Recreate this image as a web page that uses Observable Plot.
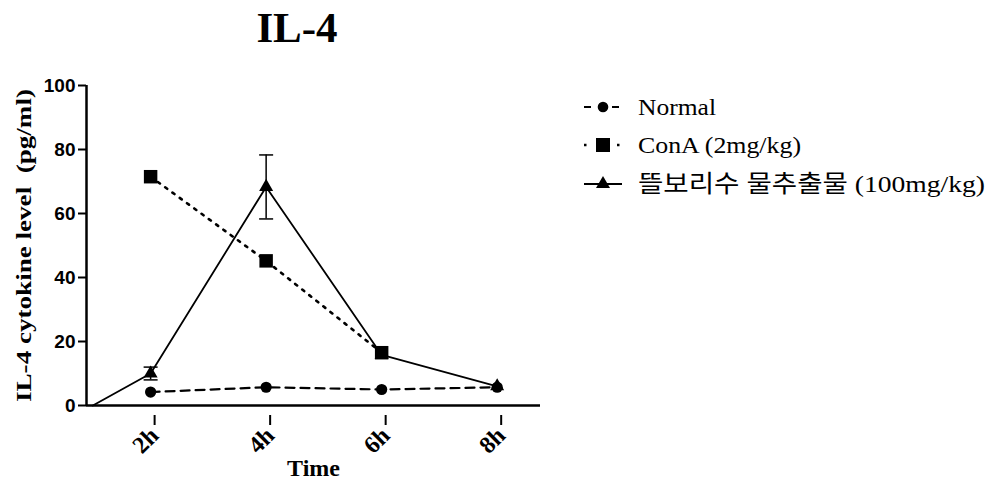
<!DOCTYPE html>
<html>
<head>
<meta charset="utf-8">
<script src="https://cdn.jsdelivr.net/npm/d3@7"></script>
<script src="https://cdn.jsdelivr.net/npm/@observablehq/plot@0.6"></script>
<style>
  html, body { margin: 0; padding: 0; background: #fff; }
  #wrap { position: relative; width: 989px; height: 490px; overflow: hidden; background: #fff; }
  #overlay { position: absolute; left: 0; top: 0; pointer-events: none; }
  #wrap g[aria-label="y-axis tick label"] text { font-size: 19px !important; font-weight: bold; font-family: 'Liberation Sans', Arial, sans-serif; }
</style>
</head>
<body>
<div id="wrap"></div>
<script>
// ---- data ----
const times = [2, 4, 6, 8];
const timeLabels = ["2h", "4h", "6h", "8h"];
const normalValues = [4.2, 5.7, 5.0, 5.7];
const conATimes = [2, 4, 6];
const conAValues = [71.5, 45.2, 16.5];
const extractTimes = [1, 2, 4, 6, 8];
const extractValues = [0, 10, 68.3, 15.8, 6.0];
const extractErrors = [0, 2, 10, 0, 0];
const seriesNames = ["Normal", "ConA (2mg/kg)", "뜰보리수 물추출물 (100mg/kg)"];
const yTicks = [0, 20, 40, 60, 80, 100];
const xDomain = [0.89, 8.75];
const titleText = "IL-4";
const yLabel = "IL-4 cytokine level  (pg/ml)";
const xLabel = "Time";

const normalRows = times.map((t, i) => ({t, v: normalValues[i]}));
const conARows = conATimes.map((t, i) => ({t, v: conAValues[i]}));
const extractRows = extractTimes.map((t, i) => ({t, v: extractValues[i], e: extractErrors[i]}));
const extractMarkers = extractRows.filter(d => times.includes(d.t));
const errRows = extractRows.filter(d => d.e > 0);

const capSymbol = {
  draw(ctx, size) {
    const w = Math.sqrt(size / Math.PI);
    ctx.moveTo(-w, 0);
    ctx.lineTo(w, 0);
  }
};

const serif = "'Liberation Serif', 'Times New Roman', serif";
const sans = "'Liberation Sans', Arial, sans-serif";

const chart = Plot.plot({
  width: 989,
  height: 490,
  marginLeft: 86,
  marginRight: 449,
  marginTop: 85,
  marginBottom: 85,
  style: {background: "white", color: "black", overflow: "visible"},
  x: {domain: xDomain},
  y: {domain: [0, 100]},
  marks: [
    Plot.axisY({ticks: yTicks, tickSize: 8, tickPadding: 3, strokeWidth: 2,
      fontSize: 19, fontWeight: "bold", fontFamily: sans, label: null}),
    Plot.axisX({ticks: times, tickFormat: d => timeLabels[times.indexOf(d)],
      tickSize: 10, tickPadding: 6, tickRotate: -45, strokeWidth: 2, dx: 4, dy: 10,
      fontSize: 24, fontWeight: "bold", fontFamily: serif, label: null}),
    Plot.text([yLabel], {frameAnchor: "left", rotate: -90, dx: -62, textAnchor: "middle",
      fontSize: 20, fontWeight: "bold", fontFamily: serif}),
    Plot.text([xLabel], {frameAnchor: "bottom", dy: 70,
      fontSize: 24, fontWeight: "bold", fontFamily: serif}),
    Plot.ruleX([xDomain[0]], {stroke: "black", strokeWidth: 2.5}),
    Plot.ruleY([0], {stroke: "black", strokeWidth: 2.5}),
    // lines
    Plot.line(normalRows, {x: "t", y: "v", stroke: "black", strokeWidth: 2.2, strokeDasharray: "9,6"}),
    Plot.line(conARows, {x: "t", y: "v", stroke: "black", strokeWidth: 2.6, strokeDasharray: "2.5,6.5"}),
    Plot.line(extractRows, {x: "t", y: "v", stroke: "black", strokeWidth: 1.8}),
    // error bars
    Plot.ruleX(errRows, {x: "t", y1: d => d.v - d.e, y2: d => d.v + d.e, stroke: "black", strokeWidth: 1.5}),
    Plot.dot(errRows, {x: "t", y: d => d.v + d.e, symbol: capSymbol, r: 7, stroke: "black", strokeWidth: 1.5, fill: "none"}),
    Plot.dot(errRows, {x: "t", y: d => d.v - d.e, symbol: capSymbol, r: 7, stroke: "black", strokeWidth: 1.5, fill: "none"}),
    // markers
    Plot.dot(conARows, {x: "t", y: "v", symbol: "square", r: 7.6, fill: "black"}),
    Plot.dot(extractMarkers, {x: "t", y: "v", symbol: "triangle", r: 5.2, fill: "black"}),
    Plot.dot(normalRows, {x: "t", y: "v", symbol: "circle", r: 5.6, fill: "black"})
  ]
});
document.getElementById("wrap").appendChild(chart);

// stretch the y-axis title to the reference's length
d3.select(chart).selectAll("text")
  .filter(function () { return this.textContent === yLabel; })
  .attr("textLength", 313).attr("lengthAdjust", "spacingAndGlyphs");

// ---- overlay: title + legend ----
const svg = d3.select("#wrap").append("svg")
  .attr("id", "overlay").attr("width", 989).attr("height", 490);

svg.append("text")
  .attr("x", 297).attr("y", 42)
  .attr("text-anchor", "middle")
  .attr("font-family", serif).attr("font-weight", "bold").attr("font-size", 43)
  .text(titleText);

const legendStyles = [
  {dash: "7,7", width: 2.2, symbol: d3.symbolCircle, size: Math.PI * 5.3 * 5.3, textWidth: 78},
  {dash: "2.5,14", width: 2.6, symbol: d3.symbolSquare, size: 14 * 14, textWidth: 163},
  {dash: null, width: 1.8, symbol: d3.symbolTriangle, size: Math.PI * 5.2 * 5.2, textWidth: 347}
];
const rowY = [107, 145, 184];
const lg = svg.append("g");
seriesNames.forEach((name, i) => {
  const st = legendStyles[i];
  const g = lg.append("g").attr("transform", `translate(0,${rowY[i]})`);
  const ln = g.append("line").attr("x1", 584).attr("x2", 622).attr("y1", 0).attr("y2", 0)
    .attr("stroke", "black").attr("stroke-width", st.width);
  if (st.dash) ln.attr("stroke-dasharray", st.dash);
  g.append("path").attr("d", d3.symbol(st.symbol, st.size)())
    .attr("transform", "translate(603,0)").attr("fill", "black");
  g.append("text").attr("x", 638).attr("y", 0).attr("dy", "0.33em")
    .attr("font-family", serif + ", 'Noto Sans CJK KR'").attr("font-size", 24)
    .attr("textLength", st.textWidth).attr("lengthAdjust", "spacingAndGlyphs")
    .text(name);
});
</script>
</body>
</html>
